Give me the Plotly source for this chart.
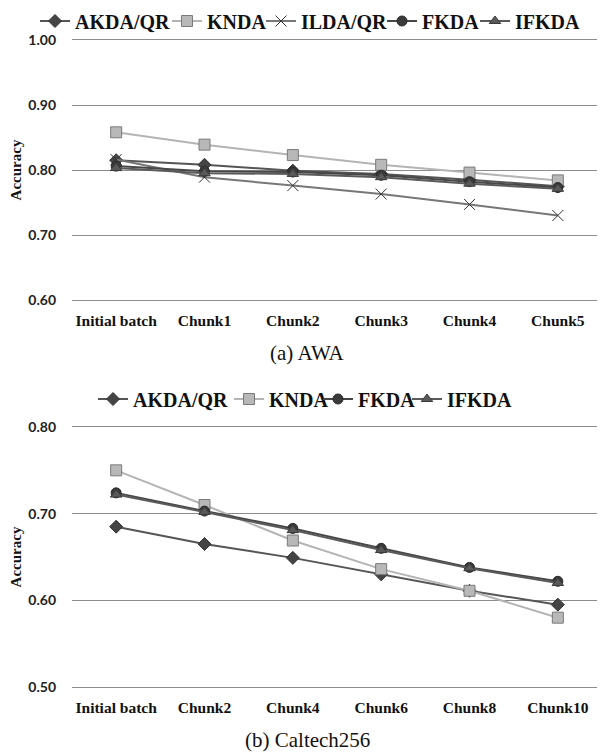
import plotly.graph_objects as go

# ---- data: (a) AWA ----
awa_categories = ["Initial batch", "Chunk1", "Chunk2", "Chunk3", "Chunk4", "Chunk5"]
awa_akda_qr = [0.815, 0.808, 0.799, 0.794, 0.785, 0.775]
awa_knda = [0.858, 0.839, 0.823, 0.808, 0.796, 0.784]
awa_ilda_qr = [0.816, 0.789, 0.776, 0.763, 0.747, 0.730]
awa_fkda = [0.806, 0.798, 0.797, 0.792, 0.782, 0.773]
awa_ifkda = [0.803, 0.795, 0.794, 0.789, 0.779, 0.771]

# ---- data: (b) Caltech256 ----
cal_categories = ["Initial batch", "Chunk2", "Chunk4", "Chunk6", "Chunk8", "Chunk10"]
cal_akda_qr = [0.685, 0.665, 0.649, 0.630, 0.611, 0.595]
cal_knda = [0.750, 0.710, 0.669, 0.636, 0.611, 0.580]
cal_fkda = [0.724, 0.703, 0.683, 0.660, 0.638, 0.622]
cal_ifkda = [0.722, 0.702, 0.681, 0.658, 0.637, 0.620]

top_ticks = [0.60, 0.70, 0.80, 0.90, 1.00]
bot_ticks = [0.50, 0.60, 0.70, 0.80]

# the page body has an 8px margin, so the figure is 8px smaller than the window
OFF = 8
W, H = 605 - OFF, 755 - OFF

styles = {
    "AKDA/QR": dict(line=dict(color="#555555", width=2),
                    marker=dict(symbol="diamond", size=10, color="#444444",
                                line=dict(color="#333333", width=1))),
    "KNDA": dict(line=dict(color="#b4b4b4", width=2),
                 marker=dict(symbol="square", size=11, color="#b8b8b8",
                             line=dict(color="#7a7a7a", width=1))),
    "ILDA/QR": dict(line=dict(color="#777777", width=2),
                    marker=dict(symbol="x-thin-open", size=11, color="#333333",
                                line=dict(color="#333333", width=1))),
    "FKDA": dict(line=dict(color="#474747", width=2),
                 marker=dict(symbol="circle", size=10, color="#3a3a3a",
                             line=dict(color="#2a2a2a", width=1))),
    "IFKDA": dict(line=dict(color="#5a5a5a", width=2),
                  marker=dict(symbol="triangle-up", size=10, color="#595959",
                              line=dict(color="#3a3a3a", width=1))),
}
# legend entry widths (px) so the legend spacing matches the reference
top_lw = {"AKDA/QR": 87, "KNDA": 49, "ILDA/QR": 76, "FKDA": 48, "IFKDA": 74}
bot_lw = {"AKDA/QR": 91, "KNDA": 44, "FKDA": 44, "IFKDA": 74}

fig = go.Figure()

top_series = [("AKDA/QR", awa_akda_qr), ("KNDA", awa_knda), ("ILDA/QR", awa_ilda_qr),
              ("FKDA", awa_fkda), ("IFKDA", awa_ifkda)]
for name, vals in top_series:
    fig.add_trace(go.Scatter(x=awa_categories, y=vals, name=name, mode="lines+markers",
                             xaxis="x", yaxis="y", legend="legend",
                             legendwidth=top_lw[name], **styles[name]))

bot_series = [("AKDA/QR", cal_akda_qr), ("KNDA", cal_knda), ("FKDA", cal_fkda),
              ("IFKDA", cal_ifkda)]
for name, vals in bot_series:
    fig.add_trace(go.Scatter(x=cal_categories, y=vals, name=name, mode="lines+markers",
                             xaxis="x2", yaxis="y2", legend="legend2",
                             legendwidth=bot_lw[name], **styles[name]))

def py(screen_y):
    return 1 - (screen_y - OFF) / H

def px(screen_x):
    return (screen_x - OFF) / W

x_dom = [px(72), px(602)]
tickfont_y = dict(family="Lato", size=14, color="#222222", weight="bold")
tickfont_x = dict(family="Liberation Serif", size=15.5, color="#111111", weight="bold")
title_font = dict(family="Liberation Serif", size=15, color="#111111", weight="bold")
legend_font = dict(family="Liberation Serif", size=20, color="#111111", weight="bold")
grid = "#8c8c8c"

common_x = dict(showgrid=False, showline=True, linecolor=grid, linewidth=1, mirror=True,
                ticks="", tickfont=tickfont_x, range=[-0.5, 5.5],
                ticklabelstandoff=6, automargin=False, zeroline=False)
common_y = dict(showgrid=True, gridcolor=grid, gridwidth=1, showline=False, ticks="",
                tickfont=tickfont_y, tickformat=".2f", ticklabelstandoff=15,
                automargin=False, zeroline=False,
                title=dict(text="Accuracy", font=title_font, standoff=8))

fig.update_layout(
    width=W, height=H,
    margin=dict(l=0, r=0, t=0, b=0, autoexpand=False),
    paper_bgcolor="white", plot_bgcolor="white",
    xaxis=dict(domain=x_dom, anchor="y", **common_x),
    yaxis=dict(domain=[py(300), py(40)], anchor="x", range=[0.60, 1.00],
               tickvals=top_ticks, **common_y),
    xaxis2=dict(domain=x_dom, anchor="y2", **common_x),
    yaxis2=dict(domain=[py(687), py(427)], anchor="x2", range=[0.50, 0.80],
                tickvals=bot_ticks, **common_y),
    legend=dict(orientation="h", x=px(35), xanchor="left", y=py(21), yanchor="middle",
                font=legend_font, itemwidth=30, bgcolor="rgba(0,0,0,0)"),
    legend2=dict(orientation="h", x=px(93), xanchor="left", y=py(399), yanchor="middle",
                 font=legend_font, itemwidth=30, bgcolor="rgba(0,0,0,0)"),
    annotations=[
        dict(text="(a) AWA", x=px(307), y=py(353), xref="paper", yref="paper",
             xanchor="center", yanchor="middle", showarrow=False,
             font=dict(family="Liberation Serif", size=21, color="#111111")),
        dict(text="(b) Caltech256", x=px(307), y=py(740), xref="paper", yref="paper",
             xanchor="center", yanchor="middle", showarrow=False,
             font=dict(family="Liberation Serif", size=21, color="#111111")),
    ],
)

fig.write_html("out.html")
